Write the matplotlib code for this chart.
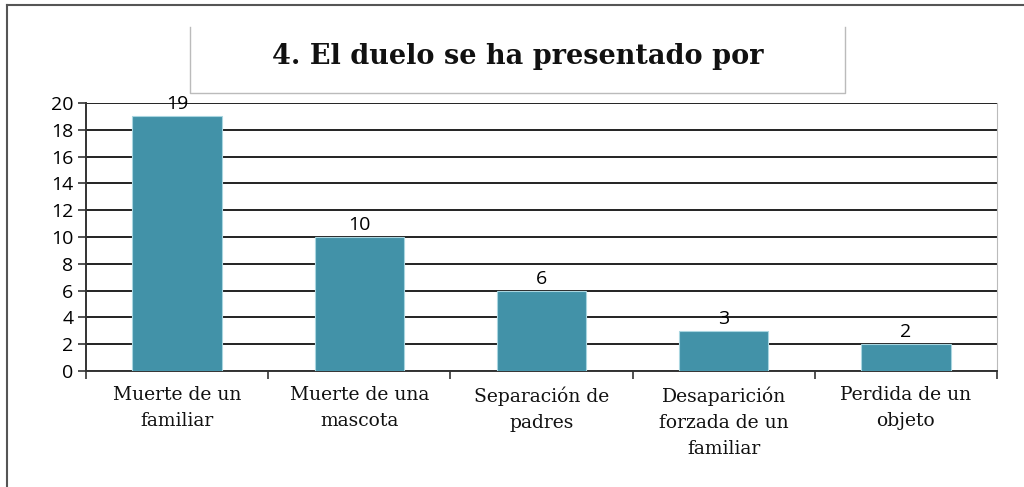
import matplotlib
matplotlib.use("Agg")
import matplotlib.pyplot as plt
from matplotlib.lines import Line2D

categories = ["Muerte de un\nfamiliar", "Muerte de una\nmascota", "Separación de\npadres",
              "Desaparición\nforzada de un\nfamiliar", "Perdida de un\nobjeto"]
values = [19, 10, 6, 3, 2]
yticks = [0, 2, 4, 6, 8, 10, 12, 14, 16, 18, 20]
title = "4. El duelo se ha presentado por"

W, H = 1024, 487
fig = plt.figure(figsize=(W / 100, H / 100), dpi=100)

def fx(px):
    return px / W

def fy(py):
    return 1 - py / H

# outer border
fig.add_artist(Line2D([fx(7), fx(7)], [fy(5), 0], transform=fig.transFigure, color="#555555", lw=1.5))
fig.add_artist(Line2D([fx(7), 1], [fy(5), fy(5)], transform=fig.transFigure, color="#555555", lw=1.5))

# title box (left, bottom, right sides)
fig.add_artist(Line2D([fx(190), fx(190), fx(845), fx(845)], [fy(27), fy(93), fy(93), fy(27)],
                      transform=fig.transFigure, color="#bbbbbb", lw=1.0))
fig.text(fx(518), fy(56), title, ha="center", va="center", fontsize=19.5, fontweight="bold",
         family="DejaVu Serif", color="#111111")

ax = fig.add_axes([fx(86), fy(371), fx(997) - fx(86), fy(103) - fy(371)])
x = list(range(len(values)))
ax.bar(x, values, width=0.49, color="#4292A8", edgecolor="#a9d6e0", linewidth=0.8, zorder=3)
ax.set_xlim(-0.5, len(values) - 0.5)
ax.set_ylim(0, 20)
ax.set_yticks(yticks)
ax.set_yticklabels([str(t) for t in yticks], family="Open Sans", fontsize=14)
for t in yticks:
    ax.axhline(t, color="#222222", lw=1.4, zorder=1)

for xi, v in zip(x, values):
    ax.text(xi, v + 0.22, str(v), ha="center", va="bottom", fontsize=14, family="Open Sans", zorder=4)

ax.set_xticks([i - 0.5 for i in range(len(values) + 1)])
ax.set_xticklabels([])
ax.set_xticks(x, minor=True)
ax.set_xticklabels(categories, minor=True, family="DejaVu Serif", fontsize=13.5, linespacing=1.58,
                   color="#111111")
ax.tick_params(axis="x", which="minor", length=0, pad=11)
ax.tick_params(axis="x", which="major", length=6, width=1.2, color="#333333")
ax.tick_params(axis="y", length=6, width=1.2, color="#333333", pad=3)
ax.spines["top"].set_visible(False)
ax.spines["right"].set_color("#bbbbbb")
ax.spines["left"].set_color("#333333")
ax.spines["left"].set_linewidth(1.4)
ax.spines["bottom"].set_color("#333333")
ax.spines["bottom"].set_linewidth(1.4)

fig.savefig("out.png", dpi=100)
